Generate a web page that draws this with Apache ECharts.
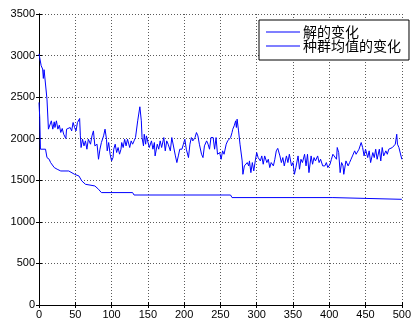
<!DOCTYPE html>
<html><head><meta charset="utf-8">
<script src="https://cdn.jsdelivr.net/npm/echarts@6/dist/echarts.min.js"></script>
<style>html,body{margin:0;padding:0;background:#fff}#c{width:414px;height:325px}</style>
</head><body><div id="c"></div>
<script>
var seriesNames = ['解的变化', '种群均值的变化'];
var xTicks = [0,50,100,150,200,250,300,350,400,450,500];
var yTicks = [0,500,1000,1500,2000,2500,3000,3500];

var bestGen = [0, 1, 2, 9, 11, 14, 16, 21, 25, 30, 41, 43, 49, 55, 59, 64, 77, 82, 86, 129, 131, 264, 266, 405, 407, 500];
var bestVal = [2436, 2256, 1874, 1874, 1773, 1753, 1713, 1653, 1633, 1612, 1612, 1593, 1572, 1552, 1492, 1452, 1432, 1392, 1352, 1352, 1323, 1323, 1292, 1292, 1271, 1271];

var meanGen = [0,3,5,6,7,9,11,13,15,17,19,21,22,24,26,28,30,32,34,37,38,40,43,45,47,49,51,53,56,57,58,60,62,64,66,68,71,73,75,77,80,82,84,86,89,91,93,94,96,98,100,102,103,105,107,109,111,113,114,116,118,120,122,125,127,
129,131,133,135,136,139,141,142,144,145,147,148,150,152,155,157,159,160,163,165,167,169,172,174,176,178,181,183,185,188,190,192,194,197,199,201,203,206,208,210,212,215,217,219,221,224,226,228,231,233,235,237,240,242,244,246,249,251,253,255,258,260,
262,264,266,267,269,271,272,273,275,277,280,281,283,285,287,289,290,292,294,296,298,300,302,305,307,309,311,314,316,318,320,323,325,327,329,332,334,336,338,341,343,345,348,350,352,354,357,359,361,363,366,368,370,372,375,377,379,381,384,386,388,391,
394,396,398,401,403,405,407,410,411,413,415,417,419,420,422,423,426,428,430,432,435,437,439,441,444,446,448,450,453,455,457,460,462,464,466,469,471,473,475,478,480,482,484,487,489,491,493,494,496,498,500];
var meanVal = [3020,2878,2838,2725,2830,2818,2476,2115,2094,2215,2115,2203,2135,2215,2115,2163,2075,2123,2054,2002,2115,2107,2135,2094,2195,2135,2094,2195,2243,2034,1894,1994,1914,1974,1874,1994,1934,2034,2094,1914,1934,1753,1874,1954,2034,2115,1994,1854,1954,1814,1733,1773,1874,1934,1834,1894,1814,1874,1954,1894,1994,1914,1994,1894,1974,
1934,1974,2014,2034,2215,2384,2215,2014,1914,2054,1934,2034,2014,1894,1974,1874,1954,1793,1934,1874,1974,1894,2014,1854,1974,1934,1854,2014,1994,1793,1713,1793,1874,1874,1934,1994,1874,1773,1934,2014,1974,2014,2074,2034,1934,1813,1773,1914,1974,1934,1874,2014,2014,1874,2014,1813,1833,1753,1854,1813,1934,1974,
1954,2014,2074,2114,2155,2215,2135,2235,2094,1934,1733,1572,1673,1693,1713,1673,1733,1592,1713,1613,1733,1833,1773,1733,1793,1693,1793,1713,1753,1653,1713,1673,1753,1854,1884,1793,1713,1773,1673,1793,1713,1813,1673,1713,1572,1653,1793,1633,1753,1713,1813,1673,1813,1592,1793,1693,1773,1733,1793,1713,1753,1673,
1673,1713,1653,1693,1753,1813,1833,1753,1894,1833,1592,1713,1673,1572,1572,1733,1673,1713,1753,1793,1854,1813,1833,1874,1954,1894,1793,1874,1773,1854,1713,1833,1773,1874,1753,1874,1733,1894,1793,1854,1813,1874,1854,1894,1874,1934,2054,1934,1894,1874,1753];

function zip(a, b) { return a.map(function (v, i) { return [v, b[i]]; }); }

var chart = echarts.init(document.getElementById('c'), null, {renderer: 'canvas'});
var axisFont = {fontFamily: '"Liberation Sans", Arial, sans-serif', fontSize: 11, color: '#000'};
var gridLine = {show: true, lineStyle: {color: '#5a5a5a', width: 1, type: [1, 2]}};
chart.setOption({
  animation: false,
  backgroundColor: '#fff',
  grid: {left: 39, right: 5, top: 14, bottom: 20, containLabel: false},
  legend: {
    data: seriesNames,
    orient: 'vertical',
    left: 259, top: 20,
    padding: [5, 8, 7, 7],
    itemGap: 0,
    itemWidth: 34, itemHeight: 1,
    icon: 'rect',
    backgroundColor: '#fff',
    borderColor: '#000', borderWidth: 1, borderRadius: 0,
    textStyle: {fontFamily: '"Noto Sans CJK SC", sans-serif', fontSize: 14, color: '#000', lineHeight: 14, padding: [0, 0, 0, -2]}
  },
  xAxis: [{
    type: 'value', min: 0, max: 500, interval: 50, position: 'bottom',
    axisLine: {show: true, onZero: false, lineStyle: {color: '#000', width: 1}},
    axisTick: {show: true, inside: true, length: 3, lineStyle: {color: '#000'}},
    axisLabel: Object.assign({margin: 4, formatter: function (v) { return xTicks.indexOf(v) >= 0 ? String(v) : ''; }}, axisFont),
    splitLine: gridLine
  }, {
    type: 'value', min: 0, max: 500, interval: 50, position: 'top',
    axisLine: {show: true, lineStyle: {color: '#000', width: 1}},
    axisTick: {show: true, inside: true, length: 3, lineStyle: {color: '#000'}},
    axisLabel: {show: false}, splitLine: {show: false}
  }],
  yAxis: [{
    type: 'value', min: 0, max: 3500, interval: 500, position: 'left',
    axisLine: {show: true, onZero: false, lineStyle: {color: '#000', width: 1}},
    axisTick: {show: true, inside: true, length: 3, lineStyle: {color: '#000'}},
    axisLabel: Object.assign({margin: 4, formatter: function (v) { return yTicks.indexOf(v) >= 0 ? String(v) : ''; }}, axisFont),
    splitLine: gridLine
  }, {
    type: 'value', min: 0, max: 3500, interval: 500, position: 'right',
    axisLine: {show: true, lineStyle: {color: '#000', width: 1}},
    axisTick: {show: true, inside: true, length: 3, lineStyle: {color: '#000'}},
    axisLabel: {show: false}, splitLine: {show: false}
  }],
  series: [{
    name: seriesNames[0], type: 'line', data: zip(bestGen, bestVal),
    showSymbol: false, symbol: 'none', color: '#0000ff',
    lineStyle: {color: '#0000ff', width: 1}, clip: true
  }, {
    name: seriesNames[1], type: 'line', data: zip(meanGen, meanVal),
    showSymbol: false, symbol: 'none', color: '#0000ff',
    lineStyle: {color: '#0000ff', width: 1}, clip: true
  }]
});
</script></body></html>
